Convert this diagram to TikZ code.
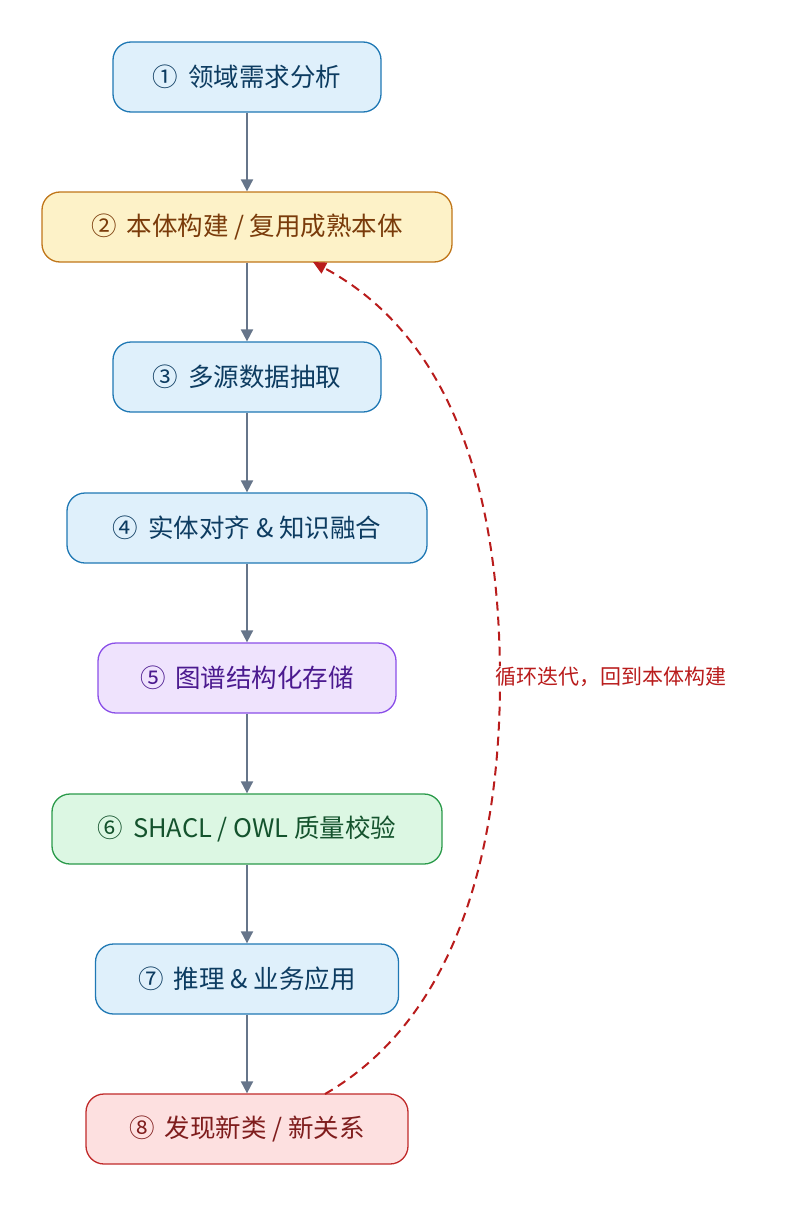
\documentclass[tikz,border=0pt]{standalone}
\usepackage{fontspec}
\setmainfont{Noto Sans CJK SC}
\usetikzlibrary{arrows.meta}
\definecolor{bfill}{HTML}{DFF0FB}\definecolor{bdraw}{HTML}{1F78B4}\definecolor{btext}{HTML}{0D3C61}
\definecolor{yfill}{HTML}{FDF2C8}\definecolor{ydraw}{HTML}{C0761A}\definecolor{ytext}{HTML}{7A3B0A}
\definecolor{pfill}{HTML}{EFE3FD}\definecolor{pdraw}{HTML}{8A4EE8}\definecolor{ptext}{HTML}{4B1A8F}
\definecolor{gfill}{HTML}{DCF7E3}\definecolor{gdraw}{HTML}{2A9A4A}\definecolor{gtext}{HTML}{14532D}
\definecolor{rfill}{HTML}{FDE0E0}\definecolor{rdraw}{HTML}{C02A2A}\definecolor{rtext}{HTML}{7F1D1D}
\definecolor{arr}{HTML}{66758A}\definecolor{lpc}{HTML}{B91C1C}
\begin{document}
\begin{tikzpicture}[x=1pt,y=-1pt,
 box/.style={draw,line width=1.3pt,rounded corners=18pt,minimum height=70pt,inner sep=0pt,font=\fontsize{25.5}{30}\selectfont},
 blue/.style={box,fill=bfill,draw=bdraw,text=btext},
 yel/.style={box,fill=yfill,draw=ydraw,text=ytext},
 pur/.style={box,fill=pfill,draw=pdraw,text=ptext},
 grn/.style={box,fill=gfill,draw=gdraw,text=gtext},
 red/.style={box,fill=rfill,draw=rdraw,text=rtext},
 flow/.style={draw=arr,line width=2pt,-{Triangle[length=12pt,width=12pt]}},
 back/.style={draw=lpc,line width=2pt,dash pattern=on 9pt off 6pt,-{Triangle[length=13pt,width=12pt]}}]
\useasboundingbox (0,0) rectangle (800,1207);
\node[blue,minimum width=268pt] (n1) at (247,77) {①\, 领域需求分析};
\node[yel,minimum width=410pt] (n2) at (247,227) {②\, 本体构建 / 复用成熟本体};
\node[blue,minimum width=268pt] (n3) at (247,377) {③\, 多源数据抽取};
\node[blue,minimum width=360pt] (n4) at (247,528) {④\, 实体对齐 \& 知识融合};
\node[pur,minimum width=298pt] (n5) at (247,678) {⑤\, 图谱结构化存储};
\node[grn,minimum width=390pt] (n6) at (247,829) {⑥\, SHACL / OWL 质量校验};
\node[blue,minimum width=303pt] (n7) at (247,979) {⑦\, 推理 \& 业务应用};
\node[red,minimum width=322pt] (n8) at (247,1129) {⑧\, 发现新类 / 新关系};
\foreach \a/\b in {n1/n2,n2/n3,n3/n4,n4/n5,n5/n6,n6/n7,n7/n8}
  \draw[flow] (\a) -- (\b);
\coordinate (s) at (325,1094);
\coordinate (m) at (500,680);
\coordinate (e) at (313,262);
\draw[back] (s) .. controls (470,1010) and (500,820) .. (m) .. controls (500,470) and (440,330) .. (e);
\node[anchor=west,fill=white,inner sep=1pt,text=lpc,font=\fontsize{21}{25}\selectfont] (lbl) at (494,677) {循环迭代，回到本体构建};
\end{tikzpicture}
\end{document}
